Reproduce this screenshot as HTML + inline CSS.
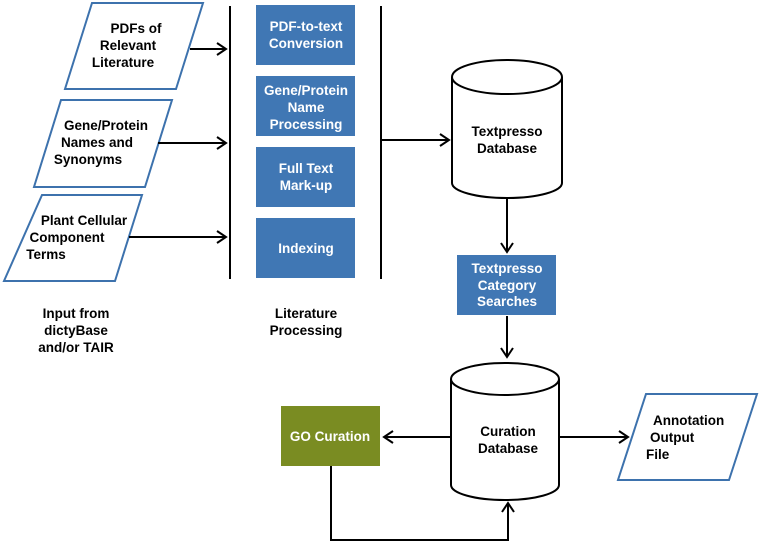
<!DOCTYPE html>
<html><head><meta charset="utf-8"><style>
body{margin:0;background:#fff}
svg text{font-family:"Liberation Sans",sans-serif;font-weight:bold;font-size:13.5px;text-anchor:middle}
svg text.s{text-anchor:start}
</style></head><body>
<svg width="760" height="544" viewBox="0 0 760 544" xmlns="http://www.w3.org/2000/svg">
<defs><marker id="a" markerWidth="12" markerHeight="14" refX="10" refY="7" orient="auto" markerUnits="userSpaceOnUse"><path d="M1,1 L10,7 L1,13" fill="none" stroke="#000" stroke-width="2"/></marker></defs>
<g fill="#fff" stroke="#3d72ad" stroke-width="2">
<polygon points="92,3 203,3 176,89 65,89"/>
<polygon points="61,100 172,100 145,187 34,187"/>
<polygon points="42,195 142,195 115,281 4,281"/>
<polygon points="646,394 757,394 729,480 618,480"/>
</g>
<g fill="#4077b4">
<rect x="256" y="5" width="99" height="60"/>
<rect x="256" y="76" width="99" height="60"/>
<rect x="256" y="147" width="99" height="60"/>
<rect x="256" y="218" width="99" height="60"/>
<rect x="457" y="255" width="99" height="60"/>
</g>
<rect x="281" y="406" width="99" height="60" fill="#7a8c22"/>
<g stroke="#000" stroke-width="2" fill="none">
<line x1="230" y1="6" x2="230" y2="279"/>
<line x1="381" y1="6" x2="381" y2="279"/>
<line x1="190" y1="49" x2="226" y2="49" marker-end="url(#a)"/>
<line x1="158" y1="143" x2="226" y2="143" marker-end="url(#a)"/>
<line x1="129" y1="237" x2="226" y2="237" marker-end="url(#a)"/>
<line x1="381" y1="140" x2="449" y2="140" marker-end="url(#a)"/>
<path d="M452,77 V183 A55,15 0 0 0 562,183 V77" fill="#fff"/>
<ellipse cx="507" cy="77" rx="55" ry="17" fill="#fff"/>
<line x1="507" y1="198" x2="507" y2="252" marker-end="url(#a)"/>
<line x1="507" y1="316" x2="507" y2="357" marker-end="url(#a)"/>
<path d="M451,379 V485 A54,15 0 0 0 559,485 V379" fill="#fff"/>
<ellipse cx="505" cy="379" rx="54" ry="16" fill="#fff"/>
<line x1="451" y1="437" x2="384" y2="437" marker-end="url(#a)"/>
<line x1="560" y1="437" x2="628" y2="437" marker-end="url(#a)"/>
<path d="M331,466 V540 H508 V503" marker-end="url(#a)"/>
</g>
<g fill="#000">
<text x="136" y="33">PDFs of</text><text x="128" y="50">Relevant</text><text x="123" y="67">Literature</text>
<text x="106" y="130">Gene/Protein</text><text x="97" y="147">Names and</text><text x="88" y="164">Synonyms</text>
<text x="84" y="225">Plant Cellular</text><text x="67" y="242">Component</text><text x="46" y="259">Terms</text>
<text x="76" y="318">Input from</text><text x="76" y="335">dictyBase</text><text x="76" y="352">and/or TAIR</text>
<text x="306" y="318">Literature</text><text x="306" y="335">Processing</text>
<text x="507" y="136">Textpresso</text><text x="507" y="153">Database</text>
<text x="508" y="436">Curation</text><text x="508" y="453">Database</text>
<text class="s" x="653" y="425">Annotation</text>
<text class="s" x="650" y="442">Output</text>
<text class="s" x="646" y="459">File</text>
</g>
<g fill="#fff">
<text x="306" y="31">PDF-to-text</text><text x="306" y="48">Conversion</text>
<text x="306" y="95">Gene/Protein</text><text x="306" y="112">Name</text><text x="306" y="129">Processing</text>
<text x="306" y="173">Full Text</text><text x="306" y="190">Mark-up</text>
<text x="306" y="253">Indexing</text>
<text x="507" y="273">Textpresso</text><text x="507" y="290">Category</text><text x="507" y="306">Searches</text>
<text x="330" y="441">GO Curation</text>
</g>
</svg>
</body></html>
